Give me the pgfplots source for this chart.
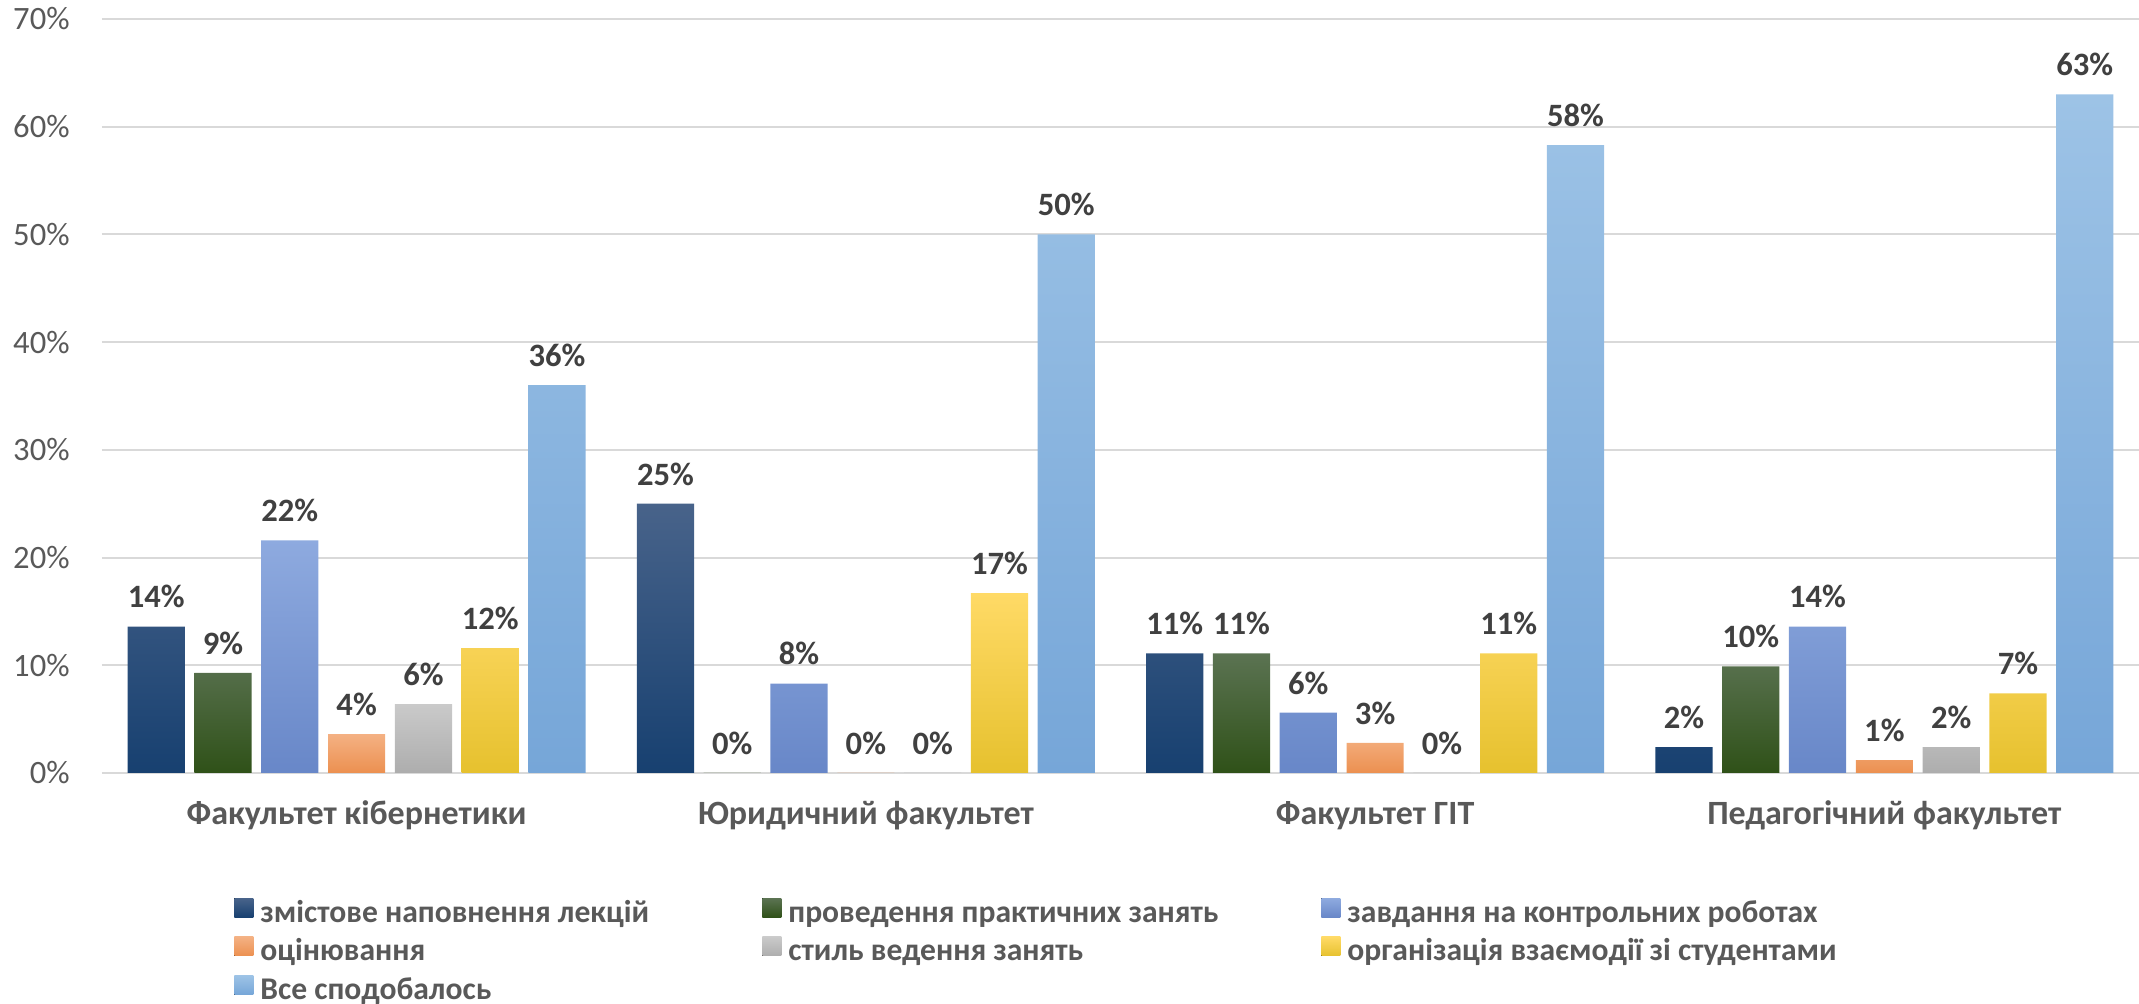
\documentclass[border=0pt]{standalone}
\usepackage{pgfplots}
\pgfplotsset{compat=1.18}
\usepackage{fontspec}
\setmainfont{Carlito}
\definecolor{ta}{HTML}{48638A}\definecolor{ba}{HTML}{174070}
\definecolor{tb}{HTML}{5B7352}\definecolor{bb}{HTML}{2F5118}
\definecolor{tc}{HTML}{8EAADF}\definecolor{bc}{HTML}{6887C8}
\definecolor{td}{HTML}{F4B183}\definecolor{bd}{HTML}{EC9050}
\definecolor{te}{HTML}{CACACA}\definecolor{be}{HTML}{ADADAD}
\definecolor{tf}{HTML}{FFDA66}\definecolor{bf}{HTML}{E6C12E}
\definecolor{tg}{HTML}{9DC3E6}\definecolor{bg}{HTML}{76A6D8}
\definecolor{lbl}{HTML}{404040}
\definecolor{txt}{HTML}{595959}
\pgfplotstableread{
x a b c d e f g
0 13.6 9.3 21.6 3.6 6.4 11.6 36.0
1 25.0 0.0 8.3 0.0 0.0 16.7 50.0
2 11.1 11.1 5.6 2.8 0.0 11.1 58.3
3 2.4 9.9 13.6 1.2 2.4 7.4 63.0
}\datatable
\begin{document}
\begin{tikzpicture}
\path[use as bounding box] (-51pt,-115.5pt) rectangle (1018.5pt,386.5pt);
\begin{axis}[
  scale only axis, width=1018.5pt, height=377pt,
  xmin=-0.5, xmax=3.5, ymin=0, ymax=70,
  axis line style={draw=none},
  ymajorgrids, grid style={draw=black!15, line width=1pt},
  major tick length=0pt,
  ytick={0,10,...,70},
  yticklabels={0\%,10\%,20\%,30\%,40\%,50\%,60\%,70\%},
  yticklabel style={font=\fontsize{16.3}{18}\selectfont, text=txt, anchor=east, inner sep=0pt, xshift=-16pt},
  xtick={0,1,2,3},
  xticklabels={Факультет кібернетики, Юридичний факультет, Факультет ГІТ, Педагогічний факультет},
  xticklabel style={font=\bfseries\fontsize{17}{19}\selectfont, text=txt, anchor=base, inner sep=0pt, yshift=-26pt},
  ybar=4.8pt, bar width=28.6pt,
  /pgf/number format/assume math mode=true,
  point meta=y,
  nodes near coords={\pgfmathprintnumber[fixed,precision=0]{\pgfplotspointmeta}\%},
  every node near coord/.append style={font=\bfseries\fontsize{16.3}{18}\selectfont, text=lbl, anchor=south, inner sep=0pt, yshift=9pt},
  legend columns=3,
  legend cell align=left,
  legend image code/.code={\fill[#1] (0pt,-1.25pt) rectangle (9.5pt,8.25pt); \path (13pt,0pt);},
  legend style={draw=none, at={(0,0)}, anchor=north west, xshift=66pt, yshift=-62.5pt,
    font=\bfseries\fontsize{15.8}{18}\selectfont, text=txt, inner sep=0pt, column sep=0pt, row sep=3.8pt,
    nodes={inner sep=0pt, text height=11pt, text depth=3.5pt}},
]
\addplot[draw=none, top color=ta, bottom color=ba] table[x=x,y=a]{\datatable};
\addplot[draw=none, top color=tb, bottom color=bb] table[x=x,y=b]{\datatable};
\addplot[draw=none, top color=tc, bottom color=bc] table[x=x,y=c]{\datatable};
\addplot[draw=none, top color=td, bottom color=bd] table[x=x,y=d]{\datatable};
\addplot[draw=none, top color=te, bottom color=be] table[x=x,y=e]{\datatable};
\addplot[draw=none, top color=tf, bottom color=bf] table[x=x,y=f]{\datatable};
\addplot[draw=none, top color=tg, bottom color=bg] table[x=x,y=g]{\datatable};
\addlegendentry{\makebox[251pt][l]{змістове наповнення лекцій}}
\addlegendentry{\makebox[266.5pt][l]{проведення практичних занять}}
\addlegendentry{завдання на контрольних роботах}
\addlegendentry{\makebox[251pt][l]{оцінювання}}
\addlegendentry{\makebox[266.5pt][l]{стиль ведення занять}}
\addlegendentry{організація взаємодії зі студентами}
\addlegendentry{\makebox[251pt][l]{Все сподобалось}}
\end{axis}
\end{tikzpicture}
\end{document}
